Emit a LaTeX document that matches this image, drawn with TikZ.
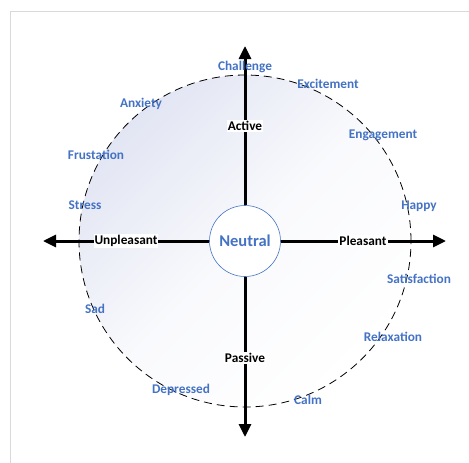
\documentclass[tikz,border=0pt]{standalone}
\usepackage{fontspec}
\setmainfont{Carlito}
\usepackage{xcolor}
\usetikzlibrary{arrows.meta, positioning}
\definecolor{moodblue}{RGB}{68,114,196}
\definecolor{framegray}{RGB}{217,217,217}
\definecolor{wheelfill}{RGB}{226,229,243}

\begin{document}
\begin{tikzpicture}[x=1pt, y=-1pt,
          every node/.style={align=center, font=\fontsize{13.3}{15}\selectfont\bfseries},
          mood/.style={text=moodblue},
          axislabel/.style={fill=white, inner sep=1pt},
          arrow/.style={-{Triangle[length=13pt, width=12pt]}, line width=3pt}
        ]
          \useasboundingbox (0,0) rectangle (469,463);

          % Frame
          \draw[framegray, line width=1pt] (10,463) -- (10,11) -- (469,11);

          % Wheel
          \shade[top color=wheelfill, bottom color=white, middle color=wheelfill!20, shading angle=45]
            (245,241) circle[radius=166pt];
          \draw[dashed, dash pattern=on 8pt off 5pt, line width=0.8pt]
            (245,241) circle[radius=166pt];

          % Neutral in the middle
          \node[circle, draw=moodblue, fill=white, line width=0.6pt,
                minimum size=71pt, mood, font=\fontsize{16.5}{18}\selectfont\bfseries]
            (neutral) at (245,241) {Neutral};

          % Arrow ends
          \coordinate (up) at (245,46);
          \coordinate (down) at (245,437);
          \coordinate (left) at (43,241);
          \coordinate (right) at (446,241);

          % Arrows
          \draw[arrow] (neutral) -- (up);
          \draw[arrow] (neutral) -- (down);
          \draw[arrow] (neutral) -- (left);
          \draw[arrow] (neutral) -- (right);

          % Axis labels
          \node[axislabel] (active) at (245,126) {Active};
          \node[axislabel] (passive) at (245,358) {Passive};
          \node[axislabel] (unpleasant) at (126,241) {Unpleasant};
          \node[axislabel] (pleasant) at (363,241) {Pleasant};

          % Moods
          \node[mood] (challenge) at (245,67) {Challenge};
          \node[mood] (excitement) at (328,84) {Excitement};
          \node[mood] (anxiety) at (141,104) {Anxiety};
          \node[mood] (engagement) at (383,135) {Engagement};
          \node[mood] (frustation) at (96,155) {Frustation};
          \node[mood] (stress) at (85,205) {Stress};
          \node[mood] (happy) at (419,206) {Happy};
          \node[mood] (satisfaction) at (419,279) {Satisfaction};
          \node[mood] (sad) at (95,309) {Sad};
          \node[mood] (relaxation) at (393,337) {Relaxation};
          \node[mood] (depressed) at (181,390) {Depressed};
          \node[mood] (calm) at (308,400) {Calm};
        \end{tikzpicture}
\end{document}
